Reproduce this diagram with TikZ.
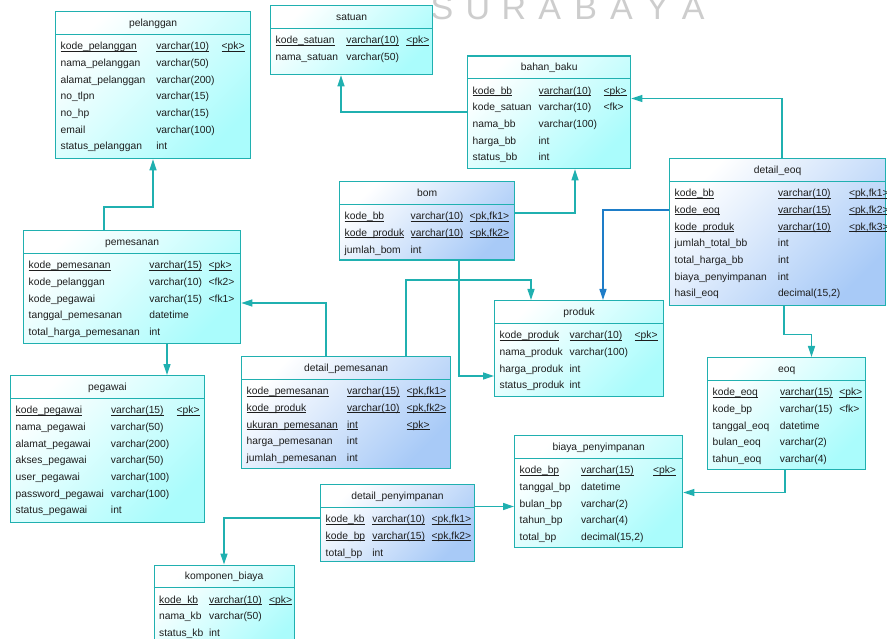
\documentclass[tikz,border=0pt]{standalone}
\usepackage{fontspec}
\setmainfont{Liberation Sans}
\usetikzlibrary{arrows.meta}

\definecolor{edge}{RGB}{32,176,176}
\definecolor{fkblue}{RGB}{30,125,200}
\definecolor{entfill}{RGB}{170,252,252}
\definecolor{linkfill}{RGB}{168,202,247}
\definecolor{ink}{RGB}{30,30,30}
\definecolor{wmgray}{RGB}{205,205,205}

\newcommand\rowfont{\fontsize{10.3}{16.7}\selectfont}
% underline at a fixed depth, so that descenders do not push it down
\newcommand\pkey[1]{\leavevmode\setbox0=\hbox{#1}\rlap{\rule[-1.6pt]{\wd0}{0.6pt}}\box0}
\def\hdr{23.3}

\tikzset{
  ertab/.style={draw=edge, line width=1.3pt, anchor=north west, inner sep=0pt, shading=axis},
  erent/.style={ertab, top color=white, bottom color=entfill, shading angle=45},
  erlink/.style={ertab, top color=white, bottom color=linkfill, shading angle=45},
  errule/.style={draw=edge, line width=1.1pt},
  ertitle/.style={font=\rowfont, text=ink, inner sep=0pt, text height=7.6pt, text depth=0.2pt, anchor=center},
  errows/.style={font=\rowfont, text=ink, inner sep=0pt, anchor=base west},
  erfk/.style={draw=edge, line width=1.3pt, -{Triangle[length=11pt,width=7pt]}},
  erfkblue/.style={erfk, draw=fkblue},
  erwm/.style={font=\fontsize{34}{34}\selectfont, text=wmgray, inner sep=0pt, anchor=base},
}

% table: name, fill style, x, y, width, height, title, column spec, rows
\newcommand\ertable[9]{%
  \node[#2, minimum width=#5pt, minimum height=#6pt] (#1) at (#3,#4) {};
  \draw[errule] ([yshift=-\hdr pt]#1.north west) -- ([yshift=-\hdr pt]#1.north east);
  \node[ertitle] (#1-title) at ([yshift=-0.5*\hdr pt]#1.north) {#7};
  \node[errows] (#1-rows) at ([xshift=5.5pt,yshift=-\hdr pt-15.4pt]#1.north west)
    {\begin{tabular}[t]{#8}#9\end{tabular}};
}

\begin{document}
\begin{tikzpicture}[x=1pt,y=-1pt]
\useasboundingbox (0,0) rectangle (887,639);
\clip (0,0) rectangle (887,639);
\fill[white] (0,0) rectangle (887,639);

% watermark lettering along the top edge
\foreach \ch [count=\i] in {S,U,R,A,B,A,Y,A}
  \node[erwm] (wm-\i) at ({442+(\i-1)*35.9},20) {\ch};

\ertable{pelanggan}{erent}{55}{11}{195}{147}{pelanggan}{@{}p{95.6pt}@{}p{65.4pt}@{}l@{}}{%
\pkey{kode\_pelanggan} & \pkey{varchar(10)} & \pkey{<pk>}\\
nama\_pelanggan & varchar(50) &\\
alamat\_pelanggan & varchar(200) &\\
no\_tlpn & varchar(15) &\\
no\_hp & varchar(15) &\\
email & varchar(100) &\\
status\_pelanggan & int &}

\ertable{satuan}{erent}{270}{5}{162}{69}{satuan}{@{}p{70.7pt}@{}p{60pt}@{}l@{}}{%
\pkey{kode\_satuan} & \pkey{varchar(10)} & \pkey{<pk>}\\
nama\_satuan & varchar(50) &}

\ertable{bahan_baku}{erent}{467}{55.5}{163}{112.5}{bahan\_baku}{@{}p{66pt}@{}p{65pt}@{}l@{}}{%
\pkey{kode\_bb} & \pkey{varchar(10)} & \pkey{<pk>}\\
kode\_satuan & varchar(10) & <fk>\\
nama\_bb & varchar(100) &\\
harga\_bb & int &\\
status\_bb & int &}

\ertable{detail_eoq}{erlink}{669}{158}{216}{147}{detail\_eoq}{@{}p{103.3pt}@{}p{71pt}@{}l@{}}{%
\pkey{kode\_bb} & \pkey{varchar(10)} & \pkey{<pk,fk1>}\\
\pkey{kode\_eoq} & \pkey{varchar(15)} & \pkey{<pk,fk2>}\\
\pkey{kode\_produk} & \pkey{varchar(10)} & \pkey{<pk,fk3>}\\
jumlah\_total\_bb & int &\\
total\_harga\_bb & int &\\
biaya\_penyimpanan & int &\\
hasil\_eoq & decimal(15,2) &}

\ertable{bom}{erlink}{339}{181}{175}{78.5}{bom}{@{}p{66pt}@{}p{59pt}@{}l@{}}{%
\pkey{kode\_bb} & \pkey{varchar(10)} & \pkey{<pk,fk1>}\\
\pkey{kode\_produk} & \pkey{varchar(10)} & \pkey{<pk,fk2>}\\
jumlah\_bom & int &}

\ertable{pemesanan}{erent}{23}{230}{217}{113}{pemesanan}{@{}p{120.7pt}@{}p{59.3pt}@{}l@{}}{%
\pkey{kode\_pemesanan} & \pkey{varchar(15)} & \pkey{<pk>}\\
kode\_pelanggan & varchar(10) & <fk2>\\
kode\_pegawai & varchar(15) & <fk1>\\
tanggal\_pemesanan & datetime &\\
total\_harga\_pemesanan & int &}

\ertable{produk}{erent}{494}{300}{169}{95.5}{produk}{@{}p{70pt}@{}p{65pt}@{}l@{}}{%
\pkey{kode\_produk} & \pkey{varchar(10)} & \pkey{<pk>}\\
nama\_produk & varchar(100) &\\
harga\_produk & int &\\
status\_produk & int &}

\ertable{detail_pemesanan}{erlink}{241}{356}{209}{111.5}{detail\_pemesanan}{@{}p{100.3pt}@{}p{59.7pt}@{}l@{}}{%
\pkey{kode\_pemesanan} & \pkey{varchar(15)} & \pkey{<pk,fk1>}\\
\pkey{kode\_produk} & \pkey{varchar(10)} & \pkey{<pk,fk2>}\\
\pkey{ukuran\_pemesanan} & \pkey{int} & \pkey{<pk>}\\
harga\_pemesanan & int &\\
jumlah\_pemesanan & int &}

\ertable{pegawai}{erent}{10}{375}{193.5}{146.5}{pegawai}{@{}p{95.3pt}@{}p{65.7pt}@{}l@{}}{%
\pkey{kode\_pegawai} & \pkey{varchar(15)} & \pkey{<pk>}\\
nama\_pegawai & varchar(50) &\\
alamat\_pegawai & varchar(200) &\\
akses\_pegawai & varchar(50) &\\
user\_pegawai & varchar(100) &\\
password\_pegawai & varchar(100) &\\
status\_pegawai & int &}

\ertable{eoq}{erent}{707}{357}{158}{111.5}{eoq}{@{}p{67.3pt}@{}p{59.3pt}@{}l@{}}{%
\pkey{kode\_eoq} & \pkey{varchar(15)} & \pkey{<pk>}\\
kode\_bp & varchar(15) & <fk>\\
tanggal\_eoq & datetime &\\
bulan\_eoq & varchar(2) &\\
tahun\_eoq & varchar(4) &}

\ertable{biaya}{erent}{514}{435}{168}{111.5}{biaya\_penyimpanan}{@{}p{61.4pt}@{}p{72pt}@{}l@{}}{%
\pkey{kode\_bp} & \pkey{varchar(15)} & \pkey{<pk>}\\
tanggal\_bp & datetime &\\
bulan\_bp & varchar(2) &\\
tahun\_bp & varchar(4) &\\
total\_bp & decimal(15,2) &}

\ertable{detail_penyimpanan}{erlink}{320}{484}{153.5}{76.5}{detail\_penyimpanan}{@{}p{46.7pt}@{}p{59.3pt}@{}l@{}}{%
\pkey{kode\_kb} & \pkey{varchar(10)} & \pkey{<pk,fk1>}\\
\pkey{kode\_bp} & \pkey{varchar(15)} & \pkey{<pk,fk2>}\\
total\_bp & int &}

\ertable{komponen}{erent}{153.5}{564.5}{140}{90}{komponen\_biaya}{@{}p{50pt}@{}p{60pt}@{}l@{}}{%
\pkey{kode\_kb} & \pkey{varchar(10)} & \pkey{<pk>}\\
nama\_kb & varchar(50) &\\
status\_kb & int &}

% foreign-key references, arrow at the referenced table
\draw[erfk] ([xshift=81pt]pemesanan.north west) -- ++(0,-23) -| ([xshift=98pt]pelanggan.south west);
\draw[erfk] ([xshift=144pt]pemesanan.south west) -- ([xshift=157pt]pegawai.north west);
\draw[erfk] ([xshift=85pt]detail_pemesanan.north west) |- ([yshift=-73pt]pemesanan.north east);
\draw[erfk] ([xshift=165pt]detail_pemesanan.north west) -- ++(0,-76) -| ([xshift=37pt]produk.north west);
\draw[erfk] ([xshift=120pt]bom.south west) |- ([yshift=-76pt]produk.north west);
\draw[erfk] ([yshift=-32pt]bom.north east) -| ([xshift=108pt]bahan_baku.south west);
\draw[erfk] ([yshift=-56.5pt]bahan_baku.north west) -| ([xshift=71pt]satuan.south west);
\draw[erfk] ([xshift=113pt]detail_eoq.north west) |- ([yshift=-43pt]bahan_baku.north east);
\draw[erfkblue] ([yshift=-52pt]detail_eoq.north west) -| ([xshift=109pt]produk.north west);
\draw[erfk] ([xshift=115pt]detail_eoq.south west) -- ++(0,28) -| ([xshift=104.5pt]eoq.north west);
\draw[erfk] ([xshift=78pt]eoq.south west) |- ([yshift=-57.5pt]biaya.north east);
\draw[erfk] ([yshift=-22.5pt]detail_penyimpanan.north east) -- ([yshift=-71.5pt]biaya.north west);
\draw[erfk] ([yshift=-34pt]detail_penyimpanan.north west) -| ([xshift=70.5pt]komponen.north west);
\end{tikzpicture}
\end{document}
